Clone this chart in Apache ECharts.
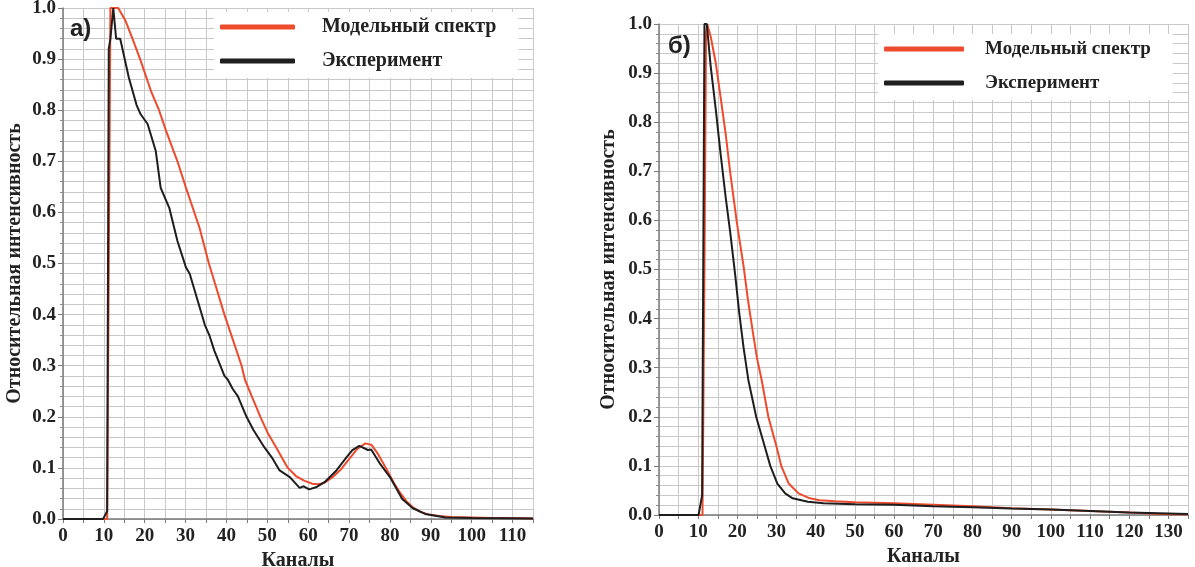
<!DOCTYPE html>
<html>
<head>
<meta charset="utf-8">
<script src="https://cdn.jsdelivr.net/npm/echarts@6/dist/echarts.min.js"></script>
<style>
  html, body { margin: 0; padding: 0; background: #fff; }
  #chart { width: 1195px; height: 567px; }
</style>
</head>
<body>
<div id="chart"></div>
<script>
// panel а) - channels / relative intensity
var modelAX = [0, 10.8, 11.2, 11.6, 13.5, 15.3, 17, 19, 21.5, 23.5, 25.2, 28, 30.1, 33.4, 35.7, 37.6, 39.5, 41.6, 43.7, 44.5, 46.2, 48.3, 50, 52.1, 55, 57, 59, 61, 62.5, 64, 66, 68, 70, 72, 74, 75.5, 77, 79, 81, 82.6, 84, 85.6, 87.5, 89.4, 92, 95, 100, 105, 110, 115];
var modelAY = [0, 0, 0.5, 1.0, 1.0, 0.975, 0.94, 0.897, 0.838, 0.80, 0.76, 0.70, 0.648, 0.57, 0.50, 0.45, 0.40, 0.35, 0.30, 0.273, 0.24, 0.20, 0.17, 0.141, 0.10, 0.084, 0.075, 0.069, 0.068, 0.071, 0.082, 0.097, 0.117, 0.137, 0.148, 0.145, 0.128, 0.100, 0.07, 0.05, 0.035, 0.023, 0.014, 0.009, 0.006, 0.004, 0.003, 0.002, 0.002, 0.001];

var expAX = [0, 9.8, 10.8, 11.2, 11.6, 12.3, 13, 14, 16.1, 18, 19, 20.7, 22.7, 23.9, 26, 28, 30.1, 31, 33, 34.7, 35.8, 37, 38.5, 39.5, 40.3, 41.5, 42.8, 44.9, 46.6, 49.2, 51.3, 53, 55.5, 57.9, 58.9, 60.2, 61.9, 64, 66.9, 69.5, 70.8, 72.5, 74.6, 75.4, 77.5, 80, 83, 85.6, 88.6, 93.6, 100, 115];
var expAY = [0, 0, 0.015, 0.92, 0.94, 1.0, 0.94, 0.94, 0.864, 0.81, 0.792, 0.773, 0.72, 0.648, 0.609, 0.544, 0.492, 0.48, 0.426, 0.38, 0.36, 0.33, 0.30, 0.28, 0.273, 0.255, 0.24, 0.20, 0.174, 0.141, 0.118, 0.095, 0.082, 0.061, 0.064, 0.058, 0.062, 0.072, 0.095, 0.122, 0.135, 0.143, 0.135, 0.136, 0.109, 0.082, 0.039, 0.021, 0.01, 0.003, 0.002, 0.001];

// panel б)
var modelBX = [0, 11.1, 11.6, 12.0, 12.3, 13.2, 14.5, 15.7, 17, 18.2, 19.9, 21.6, 22.7, 24, 25, 26.2, 27.9, 30, 31.2, 33.1, 35.6, 38.5, 41, 45, 50, 60, 70, 80, 90, 100, 110, 120, 128, 135];
var modelBY = [0, 0, 0.5, 0.98, 1.0, 0.974, 0.92, 0.852, 0.777, 0.696, 0.594, 0.506, 0.438, 0.37, 0.32, 0.275, 0.2, 0.139, 0.1, 0.064, 0.044, 0.034, 0.03, 0.028, 0.026, 0.024, 0.021, 0.018, 0.014, 0.011, 0.008, 0.005, 0.002, 0.001];

var expBX = [0, 10.1, 11.0, 11.6, 12.2, 13.2, 14.5, 15.7, 17, 18.2, 19.5, 20.5, 21.6, 22.8, 24.8, 27, 28.4, 30.2, 32.2, 34.1, 38, 42, 50, 60, 70, 80, 90, 100, 110, 120, 130, 135];
var expBY = [0, 0, 0.04, 1.0, 1.0, 0.913, 0.825, 0.737, 0.648, 0.574, 0.485, 0.41, 0.34, 0.275, 0.2, 0.139, 0.1, 0.064, 0.044, 0.034, 0.027, 0.024, 0.022, 0.021, 0.018, 0.016, 0.013, 0.011, 0.008, 0.005, 0.003, 0.002];

var seriesNames = ['Модельный спектр', 'Эксперимент'];
var panelLabels = ['а)', 'б)'];
var yName = 'Относительная интенсивность';
var xName = 'Каналы';

function zip(xs, ys) {
  return xs.map(function (x, i) { return [x, ys[i]]; });
}

var RED = '#ee4a2c';
var BLACK = '#1e1e1e';
var GRID_COLOR = '#c9c9c9';
var serif = 'Liberation Serif';

function xAxis(gridIndex, max, nameGap) {
  return {
    type: 'value', gridIndex: gridIndex, min: 0, max: max, interval: 5,
    name: xName, nameLocation: 'middle', nameGap: nameGap,
    nameTextStyle: { fontFamily: serif, fontWeight: 'bold', fontSize: 20, color: '#222' },
    axisLine: { lineStyle: { color: '#7a7a7a', width: 1.5 } },
    axisTick: { show: true, length: 4, lineStyle: { color: '#7a7a7a' } },
    axisLabel: {
      margin: 8, fontFamily: serif, fontWeight: 'bold', fontSize: 19, color: '#222',
      formatter: function (v) { return v % 10 === 0 ? String(v) : ''; }
    },
    splitLine: { show: true, lineStyle: { color: GRID_COLOR, width: 1 } }
  };
}

function yAxis(gridIndex, nameGap) {
  return {
    type: 'value', gridIndex: gridIndex, min: 0, max: 1, interval: 0.1,
    name: yName, nameLocation: 'middle', nameGap: nameGap, nameRotate: 90,
    nameTextStyle: { fontFamily: serif, fontWeight: 'bold', fontSize: 20, color: '#222' },
    axisLine: { show: true, lineStyle: { color: '#7a7a7a', width: 1.5 } },
    axisTick: { show: true, length: 5, lineStyle: { color: '#7a7a7a' } },
    minorTick: { show: true, splitNumber: 5, length: 3, lineStyle: { color: '#8a8a8a' } },
    axisLabel: {
      margin: 7, fontFamily: serif, fontWeight: 'bold', fontSize: 19, color: '#222',
      formatter: function (v) { return v.toFixed(1); }
    },
    splitLine: { show: true, lineStyle: { color: GRID_COLOR, width: 1 } },
    minorSplitLine: { show: true, lineStyle: { color: GRID_COLOR, width: 1 } }
  };
}

function legend(left, top, iconW, textGap, gap, size) {
  return {
    left: left, top: top, orient: 'vertical',
    data: seriesNames,
    icon: 'roundRect', itemWidth: iconW, itemHeight: 5, itemGap: gap,
    backgroundColor: '#fff', padding: [4, 22, 6, 6],
    textStyle: {
      fontFamily: serif, fontWeight: 'bold', fontSize: size, color: '#222',
      lineHeight: 22, padding: [0, 0, 0, textGap]
    }
  };
}

function line(name, data, color, xi) {
  return {
    type: 'line', name: name, data: data, xAxisIndex: xi, yAxisIndex: xi,
    showSymbol: false, smooth: false,
    lineStyle: { color: color, width: 2 }, itemStyle: { color: color },
    animation: false
  };
}

var chart = echarts.init(document.getElementById('chart'), null, { renderer: 'canvas' });
chart.setOption({
  backgroundColor: '#fff',
  animation: false,
  title: [
    { text: panelLabels[0], left: 70, top: 17, padding: 0,
      textStyle: { fontFamily: 'Liberation Sans', fontWeight: 'bold', fontSize: 24, color: '#222' } },
    { text: panelLabels[1], left: 668, top: 34, padding: 0,
      textStyle: { fontFamily: 'Liberation Sans', fontWeight: 'bold', fontSize: 24, color: '#222' } }
  ],
  legend: [
    legend(214, 12, 75, 22, 12, 20),
    legend(878, 34, 80, 16, 12, 19)
  ],
  grid: [
    { left: 63, top: 8, width: 470, height: 511, outerBoundsMode: 'none', containLabel: false },
    { left: 659, top: 24, width: 529, height: 491, outerBoundsMode: 'none', containLabel: false }
  ],
  xAxis: [xAxis(0, 115, 23), xAxis(1, 135, 30)],
  yAxis: [yAxis(0, 38), yAxis(1, 40)],
  series: [
    line(seriesNames[0], zip(modelAX, modelAY), RED, 0),
    line(seriesNames[1], zip(expAX, expAY), BLACK, 0),
    line(seriesNames[0], zip(modelBX, modelBY), RED, 1),
    line(seriesNames[1], zip(expBX, expBY), BLACK, 1)
  ]
});
</script>
</body>
</html>
